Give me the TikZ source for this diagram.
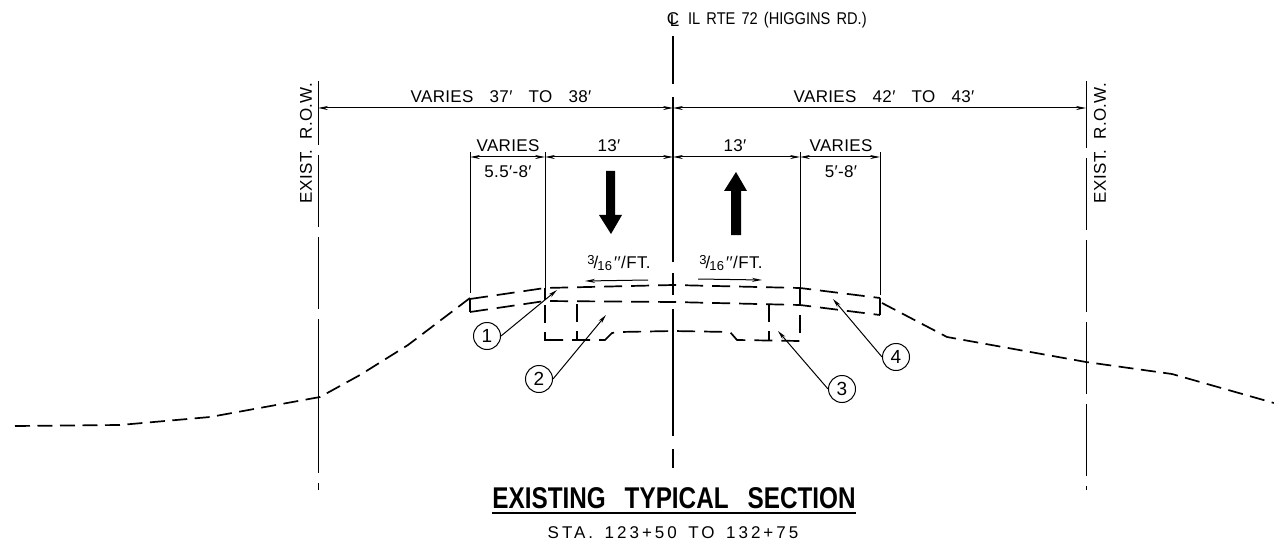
\documentclass[tikz,border=0pt]{standalone}
\usepackage{fontspec}
\usetikzlibrary{arrows.meta}
\newfontfamily\cadfont[LetterSpace=2,WordSpace=3.2]{Liberation Sans}
\newfontfamily\clfont[WordSpace=1.5]{Liberation Sans}
\newfontfamily\stafont[LetterSpace=17.5,WordSpace=1.5]{Liberation Sans}
\setmainfont{Liberation Sans}
\newcommand{\slopefrac}{\raisebox{4pt}{\fontsize{13}{13}\selectfont 3}\hspace{-1pt}/\hspace{-1pt}\raisebox{-2.5pt}{\fontsize{13}{13}\selectfont 16}\hspace{2pt}}
\tikzset{
  cadlabel/.style={font=\cadfont\fontsize{17}{17}\selectfont,inner sep=0pt},
  rowlabel/.style={cadlabel,rotate=90},
  thinline/.style={line width=1pt},
  cline/.style={line width=1.8pt},
  dimline/.style={line width=1pt,{Stealth[length=10pt,width=4pt]}-{Stealth[length=10pt,width=4pt]}},
  leader/.style={line width=1pt,-{Stealth[length=9pt,width=4pt]}},
  slopearrow/.style={line width=1pt,-{Stealth[length=10pt,width=4pt]}},
  ground/.style={line width=1.7pt,dash pattern=on 15pt off 7.5pt},
  layer/.style={line width=1.7pt,dash pattern=on 18pt off 9pt},
  balloon/.style={circle,draw,line width=1pt,minimum size=27pt,inner sep=0pt,font=\fontsize{19}{19}\selectfont},
  trafficarrow/.style={fill=black,draw=none},
}
\begin{document}
\begin{tikzpicture}[x=1pt,y=-1pt]
   \useasboundingbox (0,0) rectangle (1274,540);
   % dimension levels
   \coordinate (rowl) at (318,108);
   \coordinate (clm) at (673,108);
   \coordinate (rowr) at (1086,108);
   \coordinate (ds1) at (470,157);
   \coordinate (ds2) at (545,157);
   \coordinate (ds3) at (673,157);
   \coordinate (ds4) at (800,157);
   \coordinate (ds5) at (880,157);
   % centerline and r.o.w. lines
   \draw [cline] (673,36) -- (673,84);
   \draw [cline] (673,97) -- (673,262);
   \draw [cline] (673,273) -- (673,295);
   \draw [cline] (673,309) -- (673,436);
   \draw [cline] (673,449) -- (673,468);
   \foreach \ya/\yb in {81/145,155/227,237/309,319/473,483/490}
     \draw [thinline] (318,\ya) -- (318,\yb);
   \foreach \ya/\yb in {81/148,158/230,240/312,322/394,404/476,486/490}
     \draw [thinline] (1086,\ya) -- (1086,\yb);
   % extension lines
   \draw [thinline] (470,152) -- (470,293);
   \draw [thinline] (545,152) -- (545,288);
   \draw [thinline] (800,152) -- (800,288);
   \draw [thinline] (880,152) -- (880,295);
   % dimensions
   \draw [dimline] (rowl) -- (clm);
   \draw [dimline] (clm) -- (rowr);
   \draw [dimline] (ds1) -- (ds2);
   \draw [dimline] (ds2) -- (ds3);
   \draw [dimline] (ds3) -- (ds4);
   \draw [dimline] (ds4) -- (ds5);
   \node [cadlabel] (dimleft) at (501,97) {VARIES 37′ TO 38′};
   \node [cadlabel] (dimright) at (884,97) {VARIES 42′ TO 43′};
   \node [cadlabel] (variesl) at (508,146) {VARIES};
   \node [cadlabel] (widthl) at (508,172) {5.5′-8′};
   \node [cadlabel] (lanel) at (609,146) {13′};
   \node [cadlabel] (laner) at (735,146) {13′};
   \node [cadlabel] (variesr) at (841,146) {VARIES};
   \node [cadlabel] (widthr) at (841,172) {5′-8′};
   \node [rowlabel] (rowtextl) at (306,143) {EXIST.\hspace{10pt}R.O.W.};
   \node [rowlabel] (rowtextr) at (1100,143) {EXIST.\hspace{10pt}R.O.W.};
   \node [inner sep=0pt,anchor=west,xscale=0.86,transform shape,font=\clfont\fontsize{17}{17}\selectfont] (cltext) at (688,20) {IL RTE 72 (HIGGINS RD.)};
   \node [cadlabel] (clsym) at (673,20) {\rlap{C}\hspace{3pt}\raisebox{-2pt}{L}};
   % traffic arrows
   \fill [trafficarrow] (606,171) -- (615,171) -- (615,215) -- (622,215) -- (611,234) -- (599,215) -- (606,215) -- cycle;
   \fill [trafficarrow] (731,235) -- (741,235) -- (741,191) -- (747,191) -- (736,172) -- (724,191) -- (731,191) -- cycle;
   % slopes
   \coordinate (slla) at (648,280);
   \coordinate (sllb) at (585,281);
   \coordinate (slra) at (698,279);
   \coordinate (slrb) at (762,280);
   \draw [slopearrow] (slla) -- (sllb);
   \draw [slopearrow] (slra) -- (slrb);
   \node [cadlabel] (slopel) at (619,263) {\slopefrac′′/FT.};
   \node [cadlabel] (sloper) at (731,263) {\slopefrac′′/FT.};
   % ground line
   \draw [ground] (15,426) -- (120,425) -- (210,417) -- (320,397) -- (360,375) -- (408,345) -- (470,298);
   \draw [ground] (882,303) -- (947,337) -- (1086,362) -- (1172,374) -- (1274,403);
   % pavement
   \draw [layer] (470,299) -- (545,288) -- (673,285) -- (800,288) -- (880,298);
   \draw [layer] (470,312) -- (545,301) -- (673,302) -- (800,305) -- (880,315);
   \draw [layer] (545,340) -- (605,340) -- (612,333) -- (620,332) -- (673,331) -- (730,332) -- (737,340) -- (800,341);
   \draw [line width=1.5pt] (470,298) -- (470,312);
   \draw [line width=1.5pt] (880,298) -- (880,315);
   \draw [line width=1.5pt] (545,288) -- (545,300);
   \draw [layer] (545,305) -- (545,341);
   \draw [layer] (800,288) -- (800,341);
   \draw [layer] (577,304) -- (577,341);
   \draw [layer] (769,304) -- (769,341);
   % callouts
   \node [balloon] (b1) at (487,336) {1};
   \node [balloon] (b2) at (539,379) {2};
   \node [balloon] (b3) at (842,389) {3};
   \node [balloon] (b4) at (896,357) {4};
   \coordinate (t1) at (557,290);
   \coordinate (t2) at (606,315);
   \coordinate (t3) at (778,331);
   \coordinate (t4) at (833,299);
   \draw [leader] (b1.east) -- (t1);
   \draw [leader] (b2.east) -- (t2);
   \draw [leader] (b3.west) -- (t3);
   \draw [leader] (b4.west) -- (t4);
   % title
   \node [inner sep=0pt,xscale=0.81,transform shape,font=\bfseries\fontsize{30}{30}\selectfont] (title) at (674,498) {EXISTING\hspace{0.5em} TYPICAL\hspace{0.5em} SECTION};
   \draw [line width=1.8pt] (title.west |- 0,513) -- (title.east |- 0,513);
   \node [inner sep=0pt,font=\stafont\fontsize{17}{17}\selectfont] (sta) at (673,533) {STA. 123+50 TO 132+75};
\end{tikzpicture}
\end{document}
